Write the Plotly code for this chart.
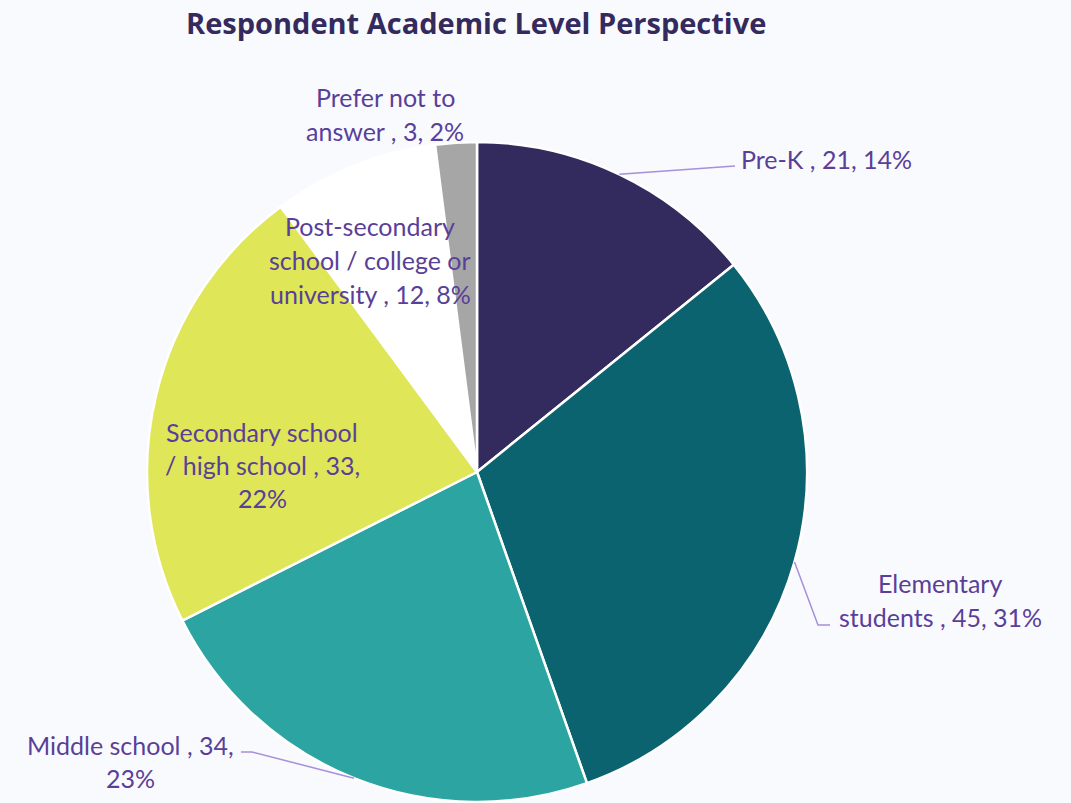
import math
import plotly.graph_objects as go

W, H = 1071, 803

categories = ["Pre-K", "Elementary students", "Middle school",
              "Secondary school / high school",
              "Post-secondary school / college or university",
              "Prefer not to answer"]
counts = [21, 45, 34, 33, 12, 3]
pct_labels = ["14%", "31%", "23%", "22%", "8%", "2%"]
colors = ["#332A5E", "#0B6370", "#2CA5A2", "#DFE658", "#FFFFFF", "#A6A6A6"]

# label line-splits (text content only)
label_lines = [
    ["Pre-K , 21, 14%"],
    ["Elementary", "students , 45, 31%"],
    ["Middle school , 34,", "23%"],
    ["Secondary school", "/ high school , 33,", "22%"],
    ["Post-secondary", "school / college or", "university , 12, 8%"],
    ["Prefer not to", "answer , 3, 2%"],
]

TEXT_COLOR = "#5A3F99"
LINE_COLOR = "#A98FD8"
BG = "#F9FAFE"
FONT = "Lato"
FS = 25

# pie geometry (pixels)
CX, CY, R = 477, 472, 330

def px(x):
    return x / W

def py(y):
    return 1 - y / H

fig = go.Figure()
fig.add_trace(go.Pie(
    labels=categories, values=counts, sort=False, direction="clockwise",
    rotation=0, textinfo="none", hoverinfo="label+value+percent",
    marker=dict(colors=colors, line=dict(color="#FFFFFF", width=2.5)),
    domain=dict(x=[px(CX - R), px(CX + R)], y=[py(CY + R), py(CY - R)]),
    showlegend=False,
))

# label layout: center x, first line y, line spacing
label_pos = [
    (826, 159, 34),
    (940, 583, 34),
    (130, 745, 33),
    (262, 432, 33),
    (370, 226, 34),
    (385, 97, 34),
]

annotations = []
for lines, (lx, ly, sp) in zip(label_lines, label_pos):
    for i, t in enumerate(lines):
        annotations.append(dict(
            text=t, x=px(lx), y=py(ly + i * sp), xref="paper", yref="paper",
            xanchor="center", yanchor="middle", showarrow=False,
            font=dict(family=FONT, size=FS, color=TEXT_COLOR)))

annotations.append(dict(
    text="<b>Respondent Academic Level Perspective</b>", x=px(476), y=py(22),
    xref="paper", yref="paper", xanchor="center", yanchor="middle",
    showarrow=False, font=dict(family="Open Sans", size=29, color="#342A5E")))

# leader lines from slice mid-angle on the rim
total = sum(counts)
cum = 0
mids = []
for v in counts:
    mids.append((cum + v / 2) / total * 2 * math.pi)
    cum += v

def rim(i):
    a = mids[i]
    return CX + R * math.sin(a), CY - R * math.cos(a)

shapes = []
def seg(pts):
    path = "M " + " L ".join(f"{px(x)},{py(y)}" for x, y in pts)
    shapes.append(dict(type="path", path=path, xref="paper", yref="paper",
                       line=dict(color=LINE_COLOR, width=1.5)))

x0, y0 = rim(0)
seg([(x0, y0), (735, 166)])
x1, y1 = rim(1)
seg([(x1, y1), (818, 625), (830, 625)])
x2, y2 = rim(2)
seg([(x2, y2), (252, 752), (241, 752)])

fig.update_layout(
    width=W, height=H, margin=dict(l=0, r=0, t=0, b=0),
    paper_bgcolor=BG, plot_bgcolor=BG,
    annotations=annotations, shapes=shapes,
)

fig.write_html("out.html")
